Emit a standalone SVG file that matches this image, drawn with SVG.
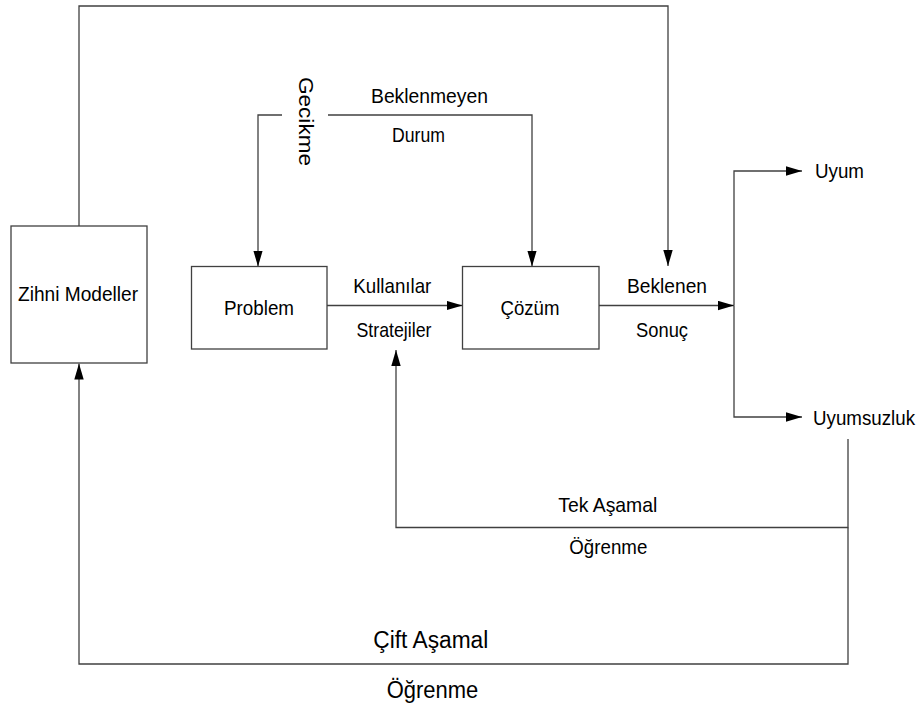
<svg xmlns="http://www.w3.org/2000/svg" width="922" height="709" viewBox="0 0 922 709">
<style>
.box{fill:#fff;stroke:#404040;stroke-width:1.3}
.ln{fill:none;stroke:#404040;stroke-width:1.3}
.arr{marker-end:url(#ah)}
text{font-family:"Liberation Sans",Arial,sans-serif;font-size:21px;fill:#000}
.big{font-size:23px}
</style>
<defs>
<marker id="ah" viewBox="0 0 16 10" refX="16" refY="5" markerWidth="16" markerHeight="10" markerUnits="userSpaceOnUse" orient="auto">
<path d="M0,0.3 L16,5 L0,9.7 z" fill="#000"/>
</marker>
</defs>
<rect width="922" height="709" fill="#fff"/>
<g id="connectors">
<path class="ln arr" d="M79,226 V6 H668 V266"/>
<path class="ln arr" d="M282,115 H258 V266.5"/>
<path class="ln arr" d="M328,115 H532 V266.5"/>
<path class="ln arr" d="M327,305.5 H462.5"/>
<path class="ln arr" d="M599,305.5 H734"/>
<path class="ln arr" d="M734,305.5 V171 H802"/>
<path class="ln arr" d="M734,305.5 V417 H802"/>
<path class="ln arr" d="M848,439 V527.5 H396 V350"/>
<path class="ln arr" d="M848,527.5 V664 H79 V363.5"/>
</g>
<g id="zihni">
<rect class="box" x="11" y="226" width="136" height="137"/>
<text x="18" y="301" textLength="120" lengthAdjust="spacingAndGlyphs">Zihni Modeller</text>
</g>
<g id="problem">
<rect class="box" x="191.5" y="266.5" width="135.5" height="82.5"/>
<text x="224" y="315" textLength="70" lengthAdjust="spacingAndGlyphs">Problem</text>
</g>
<g id="cozum">
<rect class="box" x="462.5" y="266.5" width="136.5" height="82.5"/>
<text x="500.5" y="314.5" textLength="59" lengthAdjust="spacingAndGlyphs">Çözüm</text>
</g>
<g id="uyum">
<text x="815" y="178.3" textLength="49" lengthAdjust="spacingAndGlyphs">Uyum</text>
</g>
<g id="uyumsuzluk">
<text x="813" y="425" textLength="102" lengthAdjust="spacingAndGlyphs" style="font-size:19.5px">Uyumsuzluk</text>
</g>
<g id="labels">
<text x="298.5" y="77" transform="rotate(90 298.5 77)" textLength="89" lengthAdjust="spacingAndGlyphs" style="font-size:19.5px">Gecikme</text>
<text x="371" y="103" textLength="117" lengthAdjust="spacingAndGlyphs">Beklenmeyen</text>
<text x="392" y="141.5" textLength="53" lengthAdjust="spacingAndGlyphs">Durum</text>
<text x="353.3" y="293.3" textLength="78" lengthAdjust="spacingAndGlyphs">Kullanılar</text>
<text x="356.5" y="336.7" textLength="75" lengthAdjust="spacingAndGlyphs">Stratejiler</text>
<text x="627" y="293" textLength="80" lengthAdjust="spacingAndGlyphs">Beklenen</text>
<text x="636" y="336.7" textLength="52" lengthAdjust="spacingAndGlyphs">Sonuç</text>
<text x="558.3" y="511.7" textLength="99" lengthAdjust="spacingAndGlyphs">Tek Aşamal</text>
<text x="569.3" y="554" textLength="78" lengthAdjust="spacingAndGlyphs">Öğrenme</text>
<text class="big" x="373.3" y="648.3" textLength="115" lengthAdjust="spacingAndGlyphs">Çift Aşamal</text>
<text class="big" x="386.7" y="698.3" textLength="91.6" lengthAdjust="spacingAndGlyphs">Öğrenme</text>
</g>
</svg>
